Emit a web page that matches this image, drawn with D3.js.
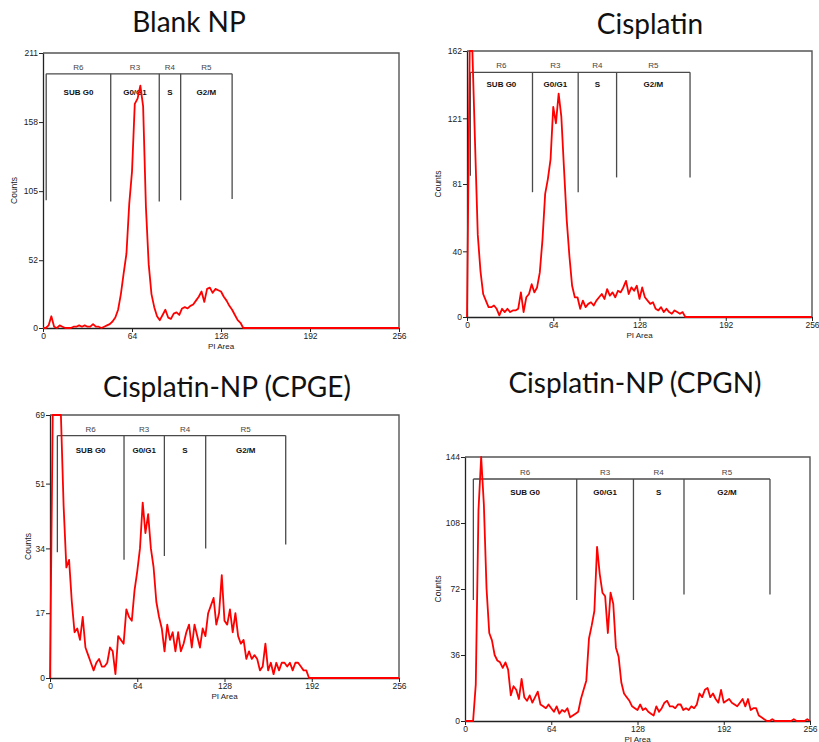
<!DOCTYPE html>
<html>
<head>
<meta charset="utf-8">
<script src="https://cdn.jsdelivr.net/npm/d3@7"></script>
<style>
  body { margin: 0; background: #fff; }
  svg { display: block; }
  .tick text { font-family: "Liberation Sans", Arial, sans-serif; font-size: 8.5px; fill: #222; }
</style>
</head>
<body>
<div id="chart"></div>
<script>
// PI Area channels are read every 2 channels, starting at channel 0
const CHANNEL_STEP = 2;
const xTicks = [0, 64, 128, 192, 256];

const gateNames = ["R6", "R3", "R4", "R5"];
const phaseNames = ["SUB G0", "G0/G1", "S", "G2/M"];

// Blank NP
const blankCounts = [0, 0, 2, 9, 1, 0, 2, 1, 0, 0, 0, 1, 1, 2, 1, 2, 1, 1, 3, 1,
  1, 0, 1, 2, 3, 5, 8, 14, 26, 42, 57, 95, 120, 172, 176, 186, 170, 93, 49, 26,
  16, 9, 6, 10, 14, 8, 7, 11, 12, 10, 15, 16, 15, 17, 18, 21, 24, 28, 20, 30,
  31, 27, 30, 29, 28, 24, 21, 17, 14, 10, 6, 4, 0];
const blankYTicks = [0, 52, 105, 158, 211];
const blankGates = [2.3, 48.7, 83.6, 99, 136];
const blankGateDrops = [98, 97, 97, 98, 99];
const blankGateLevel = 195;

// Cisplatin
const cisCounts = [0, 200, 170, 105, 50, 28, 14, 10, 6, 6, 7, 5, 1, 5, 3, 5, 3, 4, 4, 5,
  15, 3, 12, 14, 20, 15, 18, 27, 47, 75, 84, 96, 128, 118, 136, 122, 90, 59, 37, 19,
  12, 12, 5, 10, 6, 8, 9, 7, 10, 12, 14, 11, 17, 13, 15, 12, 16, 15, 18, 22,
  14, 18, 16, 19, 11, 18, 12, 10, 8, 9, 5, 4, 6, 3, 5, 3, 2, 4, 3, 2, 3, 0];
const cisYTicks = [0, 40, 81, 121, 162];
const cisGates = [2.5, 48.6, 82.5, 111, 165.5];
const cisGateDrops = [86, 76, 76, 85, 85];
const cisGateLevel = 149;

// Cisplatin-NP (CPGE)
const cpgeCounts = [0, 75, 75, 75, 70, 45, 29, 31, 20, 12, 13, 10, 16, 8, 6, 4, 2, 4, 5, 3,
  3, 4, 8, 7, 1, 11, 10, 9, 18, 16, 15, 23, 28, 34, 46, 38, 43, 34, 29, 20,
  16, 13, 7, 14, 10, 12, 7, 12, 7, 9, 12, 14, 8, 14, 11, 8, 13, 11, 17, 19,
  21, 14, 17, 27, 15, 14, 18, 12, 17, 11, 9, 10, 5, 7, 5, 6, 5, 2, 3, 9,
  2, 4, 1, 4, 2, 4, 4, 3, 4, 2, 4, 4, 3, 2, 2, 0];
const cpgeYTicks = [0, 17, 34, 51, 69];
const cpgeGates = [5.4, 54.3, 83.9, 114.2, 172.9];
const cpgeGateDrops = [33, 31, 32, 34, 35];
const cpgeGateLevel = 63.6;

// Cisplatin-NP (CPGN)
const cpgnCounts = [0, 0, 0, 0, 20, 115, 150, 118, 72, 48, 44, 36, 33, 32, 29, 32, 28, 14, 19, 17,
  12, 23, 13, 11, 14, 10, 13, 16, 9, 8, 7, 9, 7, 5, 8, 4, 6, 5, 7, 2,
  3, 4, 5, 12, 17, 22, 45, 52, 60, 95, 80, 70, 68, 48, 70, 64, 40, 35, 21, 15,
  13, 11, 8, 7, 6, 9, 6, 7, 5, 4, 3, 8, 5, 7, 10, 11, 8, 8, 7, 9,
  9, 6, 7, 6, 8, 7, 9, 15, 13, 17, 18, 13, 15, 12, 10, 17, 10, 11, 12, 10,
  9, 8, 10, 12, 8, 12, 6, 7, 7, 3, 2, 1, 0, 0, 1, 0, 0, 0, 0, 0,
  0, 0, 1, 0, 0, 0, 0, 1];
const cpgnYTicks = [0, 36, 72, 108, 144];
const cpgnGates = [6.2, 82.9, 125, 162.5, 226.3];
const cpgnGateDrops = [66, 66, 66, 69, 69];
const cpgnGateLevel = 132;

const panels = [
  { title: "Blank NP", counts: blankCounts, yTicks: blankYTicks, gates: blankGates,
    drops: blankGateDrops, level: blankGateLevel,
    box: { left: 43, top: 53, right: 399, bottom: 328 },
    titleX: 189, titleY: 32, labelDx: -26, phaseDy: 21 },
  { title: "Cisplatin", counts: cisCounts, yTicks: cisYTicks, gates: cisGates,
    drops: cisGateDrops, level: cisGateLevel,
    box: { left: 467, top: 51, right: 812, bottom: 317 },
    titleX: 650, titleY: 34, labelDx: -26, phaseDy: 15 },
  { title: "Cisplatin-NP (CPGE)", counts: cpgeCounts, yTicks: cpgeYTicks, gates: cpgeGates,
    drops: cpgeGateDrops, level: cpgeGateLevel,
    box: { left: 50, top: 415, right: 399, bottom: 678 },
    titleX: 227, titleY: 397, labelDx: -19, phaseDy: 17 },
  { title: "Cisplatin-NP (CPGN)", counts: cpgnCounts, yTicks: cpgnYTicks, gates: cpgnGates,
    drops: cpgnGateDrops, level: cpgnGateLevel,
    box: { left: 465, top: 457, right: 810, bottom: 721 },
    titleX: 635, titleY: 393, labelDx: -24, phaseDy: 16 }
];

const svg = d3.select("#chart").append("svg")
  .attr("width", 819)
  .attr("height", 742);

panels.forEach(function(p) {
  const b = p.box;
  const x = d3.scaleLinear().domain([0, 256]).range([b.left, b.right]);
  const y = d3.scaleLinear().domain([0, p.yTicks[p.yTicks.length - 1]])
    .range([b.bottom, b.top]).clamp(true);
  const g = svg.append("g");

  // title
  g.append("text")
    .attr("x", p.titleX)
    .attr("y", p.titleY)
    .attr("text-anchor", "middle")
    .style("font-family", "Lato, 'Open Sans', sans-serif")
    .style("font-size", "28px")
    .style("fill", "#111")
    .text(p.title);

  // frame (top and right)
  g.append("path")
    .attr("d", "M" + b.left + "," + b.top + "H" + b.right + "V" + b.bottom)
    .attr("fill", "none")
    .attr("stroke", "#555")
    .attr("stroke-width", 1.4);

  // gates
  g.append("line")
    .attr("x1", x(p.gates[0])).attr("x2", x(p.gates[p.gates.length - 1]))
    .attr("y1", y(p.level)).attr("y2", y(p.level))
    .attr("stroke", "#4a4a4a").attr("stroke-width", 1.3);

  g.selectAll(".gate")
    .data(p.gates)
    .enter().append("line")
    .attr("x1", function(d) { return x(d); })
    .attr("x2", function(d) { return x(d); })
    .attr("y1", y(p.level))
    .attr("y2", function(d, i) { return y(p.drops[i]); })
    .attr("stroke", "#4a4a4a").attr("stroke-width", 1.3);

  const mids = gateNames.map(function(n, i) { return (p.gates[i] + p.gates[i + 1]) / 2; });

  g.selectAll(".rlabel")
    .data(gateNames)
    .enter().append("text")
    .attr("x", function(d, i) { return x(mids[i]); })
    .attr("y", y(p.level) - 4)
    .attr("text-anchor", "middle")
    .style("font-family", "'Liberation Sans', Arial, sans-serif")
    .style("font-size", "8px")
    .style("fill", "#444")
    .text(function(d) { return d; });

  g.selectAll(".phase")
    .data(phaseNames)
    .enter().append("text")
    .attr("x", function(d, i) { return x(mids[i]); })
    .attr("y", y(p.level) + p.phaseDy)
    .attr("text-anchor", "middle")
    .style("font-family", "'Liberation Sans', Arial, sans-serif")
    .style("font-size", "8px")
    .style("font-weight", "bold")
    .style("fill", "#111")
    .text(function(d) { return d; });

  // axes
  const xAxis = g.append("g")
    .attr("transform", "translate(0," + b.bottom + ")")
    .call(d3.axisBottom(x).tickValues(xTicks).tickSize(4).tickSizeOuter(0).tickPadding(1));
  const yAxis = g.append("g")
    .attr("transform", "translate(" + b.left + ",0)")
    .call(d3.axisLeft(y).tickValues(p.yTicks).tickSize(4).tickSizeOuter(0).tickPadding(1));
  [xAxis, yAxis].forEach(function(a) {
    a.select(".domain").attr("stroke", "#222").attr("stroke-width", 1.3);
    a.selectAll(".tick line").attr("stroke", "#222");
  });

  g.append("text")
    .attr("x", (b.left + b.right) / 2)
    .attr("y", Math.min(b.bottom + 21, 741.5))
    .attr("text-anchor", "middle")
    .style("font-family", "'Liberation Sans', Arial, sans-serif")
    .style("font-size", "8px")
    .style("fill", "#222")
    .text("PI Area");

  g.append("text")
    .attr("transform", "translate(" + (b.left + p.labelDx) + "," + ((b.top + b.bottom) / 2) + ") rotate(-90)")
    .attr("text-anchor", "middle")
    .style("font-family", "'Liberation Sans', Arial, sans-serif")
    .style("font-size", "8.5px")
    .style("fill", "#222")
    .text("Counts");

  // histogram, flat at zero out to channel 256
  const pts = p.counts.map(function(c, i) { return [i * CHANNEL_STEP, c]; });
  pts.push([256, 0]);
  const line = d3.line()
    .x(function(d) { return x(d[0]); })
    .y(function(d) { return y(d[1]); });
  g.append("path")
    .datum(pts)
    .attr("d", line)
    .attr("fill", "none")
    .attr("stroke", "#ff0000")
    .attr("stroke-width", 1.8)
    .attr("stroke-linejoin", "round");
});
</script>
</body>
</html>
